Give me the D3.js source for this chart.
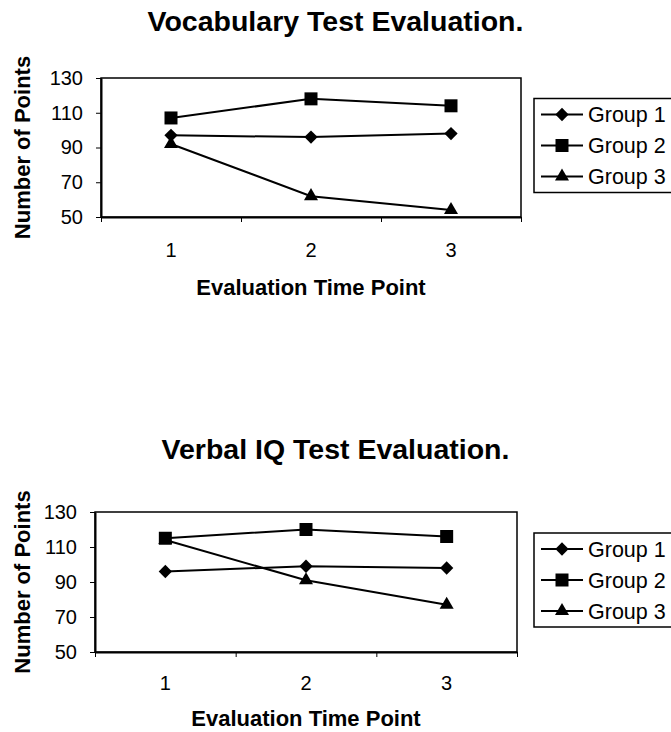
<!DOCTYPE html>
<html>
<head>
<meta charset="utf-8">
<script src="https://cdn.jsdelivr.net/npm/d3@7"></script>
<style>
  body { margin: 0; background: #fff; }
  svg { display: block; font-family: "Liberation Sans", Arial, sans-serif; }
</style>
</head>
<body>
<div id="chart"></div>
<script>
const timePoints = ["1", "2", "3"];
const groupNames = ["Group 1", "Group 2", "Group 3"];
const yTickValues = [50, 70, 90, 110, 130];

// Vocabulary test
const vocabGroup1 = [97, 96, 98];
const vocabGroup2 = [107, 118, 114];
const vocabGroup3 = [92, 62, 54];

// Verbal IQ test
const verbalGroup1 = [96, 99, 98];
const verbalGroup2 = [115, 120, 116];
const verbalGroup3 = [114, 91, 77];

let width = 671,
  height = 732;

// diamond = square turned 45deg
const diamondType = {
  draw(context, size) {
    const r = Math.sqrt(size / 2);
    context.moveTo(0, -r);
    context.lineTo(r, 0);
    context.lineTo(0, r);
    context.lineTo(-r, 0);
    context.closePath();
  }
};
const markers = [
  d3.symbol().type(diamondType).size(88),
  d3.symbol().type(d3.symbolSquare).size(169),
  d3.symbol().type(d3.symbolTriangle).size(85)
];

let svg = d3
  .select("#chart")
  .append("svg")
  .attr("width", width)
  .attr("height", height);

function drawChart(title, seriesList, box) {
  let g = svg.append("g");

  let x = d3.scaleBand().domain(timePoints).range([box.left, box.right]);
  let xEdges = d3.scaleLinear().domain([0, timePoints.length]).range([box.left, box.right]);
  let y = d3.scaleLinear().domain([50, 130]).range([box.bottom, box.top]);

  // title, centred on the whole chart
  g.append("text")
    .attr("x", width / 2)
    .attr("y", box.titleY)
    .attr("text-anchor", "middle")
    .attr("font-size", 28.5)
    .attr("font-weight", "bold")
    .text(title);

  // plot border
  g.append("rect")
    .attr("x", box.left)
    .attr("y", box.top)
    .attr("width", box.right - box.left)
    .attr("height", box.bottom - box.top)
    .attr("fill", "none")
    .attr("stroke", "#000")
    .attr("stroke-width", 1.5);

  // y axis
  let yAxis = g
    .append("g")
    .attr("transform", `translate(${box.left}, 0)`)
    .call(d3.axisLeft(y).tickValues(yTickValues).tickSize(5).tickSizeOuter(0).tickPadding(13));
  yAxis.select(".domain").attr("stroke-width", 2);
  yAxis.selectAll("text").attr("font-size", 20).attr("fill", "#000");

  // x axis: ticks on the category edges, labels in the middle
  let xAxis = g
    .append("g")
    .attr("transform", `translate(0, ${box.bottom})`)
    .call(d3.axisBottom(xEdges).tickValues(d3.range(timePoints.length + 1)).tickSize(5).tickSizeOuter(0).tickFormat(""));
  xAxis.select(".domain").attr("stroke-width", 2);

  let xLabels = g
    .append("g")
    .attr("transform", `translate(0, ${box.bottom})`)
    .call(d3.axisBottom(x).tickSize(0).tickPadding(box.labelPad));
  xLabels.select(".domain").remove();
  xLabels.selectAll("text").attr("font-size", 20).attr("fill", "#000");

  g.append("text")
    .attr("x", (box.left + box.right) / 2)
    .attr("y", box.bottom + box.axisTitlePad)
    .attr("text-anchor", "middle")
    .attr("font-size", 22)
    .attr("font-weight", "bold")
    .text("Evaluation Time Point");

  g.append("text")
    .attr("transform", `translate(30, ${(box.top + box.bottom) / 2}) rotate(-90)`)
    .attr("text-anchor", "middle")
    .attr("font-size", 22)
    .attr("font-weight", "bold")
    .text("Number of Points");

  // lines + markers
  let line = d3
    .line()
    .x((d, i) => x(timePoints[i]) + x.bandwidth() / 2)
    .y(d => y(d));

  seriesList.forEach((values, s) => {
    g.append("path")
      .attr("d", line(values))
      .attr("fill", "none")
      .attr("stroke", "#000")
      .attr("stroke-width", 2);

    g.selectAll(null)
      .data(values)
      .enter()
      .append("path")
      .attr("d", markers[s]())
      .attr("transform", (d, i) => `translate(${x(timePoints[i]) + x.bandwidth() / 2}, ${y(d)})`)
      .attr("fill", "#000");
  });

  // legend
  let midY = (box.top + box.bottom) / 2;
  let legend = g.append("g").attr("transform", `translate(534, ${midY - 2})`);
  legend
    .append("rect")
    .attr("x", 0)
    .attr("y", -47)
    .attr("width", 150)
    .attr("height", 94)
    .attr("fill", "#fff")
    .attr("stroke", "#000")
    .attr("stroke-width", 1.5);

  let item = legend
    .selectAll(".item")
    .data(groupNames)
    .enter()
    .append("g")
    .attr("class", "item")
    .attr("transform", (d, i) => `translate(0, ${(i - 1) * 31})`);

  item.append("line")
    .attr("x1", 7)
    .attr("x2", 49)
    .attr("stroke", "#000")
    .attr("stroke-width", 2);
  item.append("path")
    .attr("d", (d, i) => markers[i]())
    .attr("transform", "translate(28, 0)")
    .attr("fill", "#000");
  item.append("text")
    .attr("x", 54)
    .attr("dy", "0.35em")
    .attr("font-size", 21.5)
    .text(d => d);
}

drawChart(
  "Vocabulary Test Evaluation.",
  [vocabGroup1, vocabGroup2, vocabGroup3],
  { left: 101, right: 521, top: 78, bottom: 217, titleY: 31, labelPad: 26, axisTitlePad: 78 }
);

drawChart(
  "Verbal IQ Test Evaluation.",
  [verbalGroup1, verbalGroup2, verbalGroup3],
  { left: 95, right: 517, top: 512, bottom: 652, titleY: 459, labelPad: 24, axisTitlePad: 74 }
);
</script>
</body>
</html>
